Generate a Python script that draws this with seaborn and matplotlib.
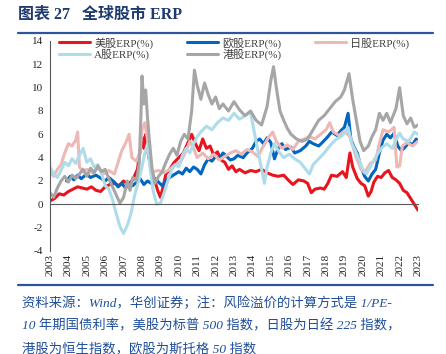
import pandas as pd
import seaborn as sns
import matplotlib.pyplot as plt
from matplotlib.lines import Line2D

# ---- data (decimal year, ERP %) ----
us_t = [2003.0, 2003.25, 2003.5, 2003.75, 2004.0, 2004.25, 2004.5, 2004.75, 2005.0, 2005.25, 2005.5, 2005.75,
        2006.0, 2006.25, 2006.5, 2006.75, 2007.0, 2007.25, 2007.5, 2007.75, 2007.9, 2008.0, 2008.1, 2008.2,
        2008.35, 2008.5, 2008.7, 2008.85, 2009.0, 2009.15, 2009.3, 2009.5, 2009.75, 2010.0, 2010.25, 2010.5,
        2010.7, 2010.9, 2011.1, 2011.3, 2011.5, 2011.7, 2011.9, 2012.1, 2012.3, 2012.5, 2012.7, 2012.9,
        2013.1, 2013.3, 2013.6, 2013.9, 2014.2, 2014.5, 2014.8, 2015.1, 2015.4, 2015.7, 2016.0, 2016.2,
        2016.5, 2016.8, 2017.0, 2017.2, 2017.4, 2017.7, 2017.9, 2018.1, 2018.3, 2018.6, 2018.9, 2019.1,
        2019.3, 2019.45, 2019.7, 2019.9, 2020.1, 2020.3, 2020.45, 2020.6, 2020.8, 2021.0, 2021.2, 2021.4,
        2021.6, 2021.8, 2022.0, 2022.2, 2022.4, 2022.6, 2022.8, 2023.0]
us_v = [0.3, 0.5, 0.9, 0.8, 1.1, 1.3, 1.5, 1.4, 1.3, 1.5, 1.2, 1.1,
        1.5, 1.7, 1.8, 1.6, 2.0, 1.7, 2.1, 3.0, 4.6, 5.8, 4.8, 6.0,
        4.2, 3.0, 2.0, 1.2, 0.6, 1.5, 2.6, 3.0, 3.6, 4.0, 4.4, 5.3,
        6.0, 5.2, 4.6, 5.6, 4.8, 5.0, 4.2, 4.5, 3.8, 3.6, 3.0, 3.3,
        2.8, 3.0, 2.7, 2.9, 2.8, 3.0, 2.7, 2.5, 2.4, 2.5, 2.0, 1.7,
        2.1, 2.0, 1.8, 1.0, 1.3, 1.4, 1.3, 1.8, 2.5, 2.4, 2.8, 2.3,
        4.4, 3.2, 2.2, 1.8, 1.6, 0.7, 1.1, 1.9, 2.4, 2.3, 2.7, 2.9,
        2.3, 2.1, 1.8, 1.2, 1.0, 0.5, 0.0, -0.5]

eu_t = [2003.9, 2004.1, 2004.3, 2004.5, 2004.7, 2005.0, 2005.2, 2005.5, 2005.8, 2006.0, 2006.2, 2006.5,
        2006.7, 2006.9, 2007.1, 2007.3, 2007.5, 2007.7, 2007.9, 2008.1, 2008.3, 2008.5, 2008.7, 2008.9,
        2009.1, 2009.3, 2009.5, 2009.8, 2010.0, 2010.2, 2010.4, 2010.6, 2010.8, 2011.0, 2011.2, 2011.4,
        2011.6, 2011.8, 2012.0, 2012.2, 2012.4, 2012.6, 2012.8, 2013.0, 2013.2, 2013.5, 2013.7, 2014.0,
        2014.2, 2014.4, 2014.6, 2014.8, 2015.0, 2015.2, 2015.4, 2015.6, 2015.8, 2016.1, 2016.3, 2016.6,
        2016.9, 2017.1, 2017.3, 2017.6, 2017.8, 2018.1, 2018.3, 2018.6, 2018.8, 2019.0, 2019.2, 2019.35,
        2019.5, 2019.7, 2019.9, 2020.1, 2020.3, 2020.5, 2020.7, 2020.9, 2021.1, 2021.3, 2021.5, 2021.7,
        2021.9, 2022.1, 2022.3, 2022.5, 2022.7, 2022.9, 2023.0]
eu_v = [2.0, 2.4, 2.1, 2.5, 2.2, 2.6, 2.3, 2.5, 2.2, 2.0, 2.3, 1.9,
        1.5, 1.8, 1.4, 1.7, 1.6, 1.9, 2.2, 1.7, 2.0, 1.8, 2.2, 1.9,
        1.6, 2.0, 2.3, 2.6, 2.8, 2.6, 3.1, 2.8, 3.2, 3.0, 2.6, 3.4,
        3.9, 3.7, 4.1, 3.9, 4.4, 4.1, 3.8, 3.9, 4.2, 4.0, 4.4, 4.8,
        5.4, 5.6, 5.2, 5.7, 5.3, 3.9, 4.8, 5.2, 4.7, 4.9, 4.4, 4.6,
        5.0, 5.4, 5.2, 5.0, 5.3, 5.8, 6.2, 5.9, 6.3, 6.6, 7.8, 5.6,
        5.0, 4.4, 3.2, 2.4, 2.0, 2.6, 3.0, 4.4, 5.5, 6.0, 5.7, 6.1,
        5.0, 4.6, 4.9, 5.3, 5.1, 5.6, 5.4]

jp_t = [2003.0, 2003.2, 2003.4, 2003.6, 2003.8, 2004.0, 2004.2, 2004.4, 2004.5, 2004.6, 2004.8, 2005.0,
        2005.3, 2005.6, 2005.9, 2006.2, 2006.5, 2006.7, 2006.9, 2007.1, 2007.3, 2007.45, 2007.7, 2007.9,
        2008.0, 2008.15, 2008.3, 2008.45, 2008.6, 2008.9, 2009.2, 2009.5, 2009.8, 2010.1, 2010.4, 2010.6,
        2010.8, 2011.0, 2011.3, 2011.6, 2011.9, 2012.2, 2012.5, 2012.8, 2013.1, 2013.4, 2013.7, 2014.0,
        2014.3, 2014.6, 2014.9, 2015.1, 2015.3, 2015.6, 2015.9, 2016.2, 2016.5, 2016.8, 2017.1, 2017.4,
        2017.7, 2018.0, 2018.2, 2018.4, 2018.7, 2019.0, 2019.3, 2019.6, 2019.9, 2020.1, 2020.4, 2020.7,
        2020.9, 2021.1, 2021.4, 2021.7, 2021.85, 2022.0, 2022.15, 2022.4, 2022.7, 2023.0]
jp_v = [2.8, 2.4, 3.0, 3.4, 4.4, 5.2, 5.0, 5.5, 6.2, 3.2, 2.8, 3.0,
        2.7, 3.1, 2.6, 2.9, 2.6, 3.6, 4.6, 5.2, 6.0, 4.0, 3.7, 4.5,
        6.4, 7.0, 5.6, 3.2, 2.8, 2.9, 2.7, 3.0, 3.4, 3.6, 4.6, 5.4,
        4.8, 4.0, 4.4, 3.9, 4.3, 3.8, 4.1, 4.4, 4.6, 4.3, 4.7, 4.5,
        4.1, 5.0, 5.8, 6.2, 5.4, 4.8, 5.1, 4.7, 5.4, 5.6, 5.8, 5.6,
        6.0, 6.4, 7.0, 6.2, 5.9, 6.3, 5.8, 4.2, 3.0, 2.7, 3.5, 3.8,
        5.2, 6.4, 6.2, 6.6, 3.2, 3.3, 5.0, 5.3, 5.0, 5.4]

cn_t = [2003.0, 2003.2, 2003.4, 2003.6, 2003.8, 2004.0, 2004.2, 2004.4, 2004.6, 2004.8, 2005.0, 2005.2,
        2005.4, 2005.6, 2005.8, 2006.0, 2006.2, 2006.4, 2006.6, 2006.8, 2007.0, 2007.2, 2007.4, 2007.6,
        2007.8, 2008.0, 2008.15, 2008.3, 2008.45, 2008.6, 2008.8, 2009.0, 2009.2, 2009.4, 2009.6, 2009.8,
        2010.0, 2010.2, 2010.4, 2010.6, 2010.8, 2011.0, 2011.2, 2011.5, 2011.8, 2012.1, 2012.4, 2012.7,
        2013.0, 2013.3, 2013.6, 2013.9, 2014.1, 2014.3, 2014.5, 2014.65, 2014.8, 2015.0, 2015.2, 2015.4,
        2015.7, 2016.0, 2016.3, 2016.6, 2016.9, 2017.1, 2017.3, 2017.6, 2017.9, 2018.2, 2018.5, 2018.8,
        2019.0, 2019.2, 2019.4, 2019.6, 2019.8, 2020.0, 2020.2, 2020.4, 2020.6, 2020.8, 2021.0, 2021.3,
        2021.6, 2021.8, 2022.0, 2022.2, 2022.5, 2022.8, 2023.0]
cn_v = [3.2, 2.6, 2.3, 2.9, 3.6, 3.3, 3.9, 3.5, 4.2, 4.8, 3.6, 3.9,
        3.2, 3.4, 2.6, 1.6, 1.3, 0.4, -0.8, -1.9, -2.5, -1.8, -0.8, 0.8,
        1.9, 3.2, 4.4, 5.2, 3.0, 1.2, 0.0, 0.1, 1.0, 2.0, 2.9, 3.4,
        3.2, 4.2, 4.8, 4.4, 5.2, 5.8, 6.2, 6.7, 6.4, 7.0, 7.4, 7.2,
        7.8, 7.3, 7.6, 7.9, 6.2, 4.6, 3.0, 1.8, 3.2, 4.4, 5.2, 4.6,
        4.0, 4.3, 3.9, 3.6, 3.0, 2.6, 3.4, 3.9, 4.4, 5.0, 5.5, 5.8,
        6.1, 6.6, 5.2, 4.6, 3.8, 3.0, 2.6, 3.2, 3.8, 4.3, 4.8, 5.2,
        4.8, 5.5, 6.1, 5.6, 5.4, 6.2, 6.0]

hk_t = [2003.0, 2003.2, 2003.4, 2003.6, 2003.8, 2004.0, 2004.2, 2004.4, 2004.6, 2004.8, 2005.0, 2005.2,
        2005.4, 2005.6, 2005.8, 2006.0, 2006.2, 2006.4, 2006.6, 2006.8, 2007.0, 2007.2, 2007.35, 2007.5,
        2007.7, 2007.85, 2007.95, 2008.0, 2008.1, 2008.2, 2008.3, 2008.4, 2008.55, 2008.7, 2008.9, 2009.1,
        2009.3, 2009.5, 2009.7, 2009.9, 2010.1, 2010.3, 2010.5, 2010.7, 2010.85, 2011.0, 2011.2, 2011.4,
        2011.6, 2011.8, 2012.0, 2012.2, 2012.4, 2012.7, 2013.0, 2013.3, 2013.6, 2013.9, 2014.2, 2014.5,
        2014.8, 2015.0, 2015.15, 2015.3, 2015.5, 2015.7, 2015.9, 2016.1, 2016.4, 2016.7, 2017.0, 2017.3,
        2017.6, 2017.9, 2018.2, 2018.5, 2018.8, 2019.0, 2019.25, 2019.45, 2019.65, 2019.85, 2020.05, 2020.3,
        2020.5, 2020.7, 2020.9, 2021.1, 2021.3, 2021.5, 2021.8, 2022.0, 2022.2, 2022.4, 2022.6, 2022.8,
        2023.0]
hk_v = [1.0, 0.6, 1.4, 2.0, 2.4, 1.9, 2.5, 2.2, 2.6, 3.0, 2.4, 3.1,
        2.7, 3.3, 2.8, 3.0, 2.2, 1.5, 0.8, 0.1, 0.6, 2.0, 1.2, 2.3,
        2.0, 3.5, 8.0, 11.0, 8.6, 9.8, 7.4, 5.5, 3.0, 1.8, 2.4, 2.8,
        3.6, 4.3, 4.8, 4.2, 5.4, 6.0, 5.6, 8.0, 11.5, 10.2, 9.0, 10.4,
        9.4, 8.6, 9.2, 8.2, 8.6, 8.0, 8.8, 8.1, 7.6, 8.0, 7.2, 6.8,
        8.4, 10.6, 11.8, 10.0, 8.0, 7.2, 6.5, 6.0, 5.6, 5.4, 5.6, 6.4,
        7.2, 7.6, 8.2, 8.8, 9.2, 9.8, 11.2, 9.0, 7.2, 5.4, 4.6, 5.0,
        5.8, 6.4, 7.8, 7.2, 7.8, 7.0, 8.2, 10.0, 7.6, 6.9, 7.4, 6.6,
        6.8]

names = ['美股ERP(%)', '欧股ERP(%)', '日股ERP(%)', 'A股ERP(%)', '港股ERP(%)']
colors = ['#E8141E', '#0066C0', '#EDB8B6', '#AEDCEA', '#A6A6A6']
years = list(range(2003, 2024))
yticks = list(range(-4, 15, 2))

frames = []
for n, t, v in zip(names, [us_t, eu_t, jp_t, cn_t, hk_t], [us_v, eu_v, jp_v, cn_v, hk_v]):
    frames.append(pd.DataFrame({'year': t, 'erp': v, 'series': n}))
df = pd.concat(frames, ignore_index=True)

sns.set_style('white')
plt.rcParams['font.family'] = ['Liberation Serif', 'Noto Sans CJK SC']
plt.rcParams['axes.unicode_minus'] = False

fig = plt.figure(figsize=(4.46, 3.54), dpi=100)
ax = fig.add_axes([50 / 446, 1 - 251 / 354, 368 / 446, 210 / 354])

sns.lineplot(data=df, x='year', y='erp', hue='series', hue_order=names,
             palette=colors, estimator=None, sort=False, linewidth=2.2, ax=ax)

ax.set_xlim(2003, 2023)
ax.set_ylim(-4, 14)
ax.set_xlabel('')
ax.set_ylabel('')
ax.set_yticks(yticks)
ax.set_xticks(years)
ax.tick_params(axis='x', labelbottom=False, direction='out', length=3, width=0.8, color='#595959')
ax.tick_params(axis='y', direction='out', length=3, width=0.8, color='#595959', labelsize=8, pad=2)
for s in ['top', 'right']:
    ax.spines[s].set_visible(False)
ax.spines['bottom'].set_position(('data', 0))
for s in ['left', 'bottom']:
    ax.spines[s].set_color('#595959')
    ax.spines[s].set_linewidth(0.8)

sec = ax.secondary_xaxis('bottom')
sec.set_xticks(years)
sec.set_xticklabels([str(y) for y in years], rotation=90, fontsize=8)
sec.tick_params(length=0, pad=2)
sec.spines['bottom'].set_visible(False)

handles, labels = ax.get_legend_handles_labels()
order = [0, 3, 1, 4, 2]
ax.legend([handles[i] for i in order], [labels[i] for i in order], ncol=3,
          loc='upper left', bbox_to_anchor=(52 / 446, 1 - 30 / 354), bbox_transform=fig.transFigure,
          frameon=False, fontsize=8, handlelength=2.8, handletextpad=0.4, columnspacing=3.0,
          labelspacing=0.05, borderpad=0.1, labelcolor='#404040')

navy = '#1F3A6E'
fig.text(18 / 446, 1 - 15 / 354, '图表 27   全球股市 ERP', fontsize=11.5, fontweight='bold',
         color=navy, va='center', ha='left')
fig.add_artist(Line2D([18 / 446, 433 / 446], [1 - 33 / 354] * 2, color='#2E5597', lw=1.6))
fig.add_artist(Line2D([18 / 446, 433 / 446], [1 - 285 / 354] * 2, color='#2E5597', lw=1.6))

note = ['资料来源：Wind，华创证券；注：风险溢价的计算方式是 1/PE-',
        '10 年期国债利率，美股为标普 500 指数，日股为日经 225 指数，',
        '港股为恒生指数，欧股为斯托格 50 指数']
for i, line in enumerate(note):
    fig.text(22 / 446, 1 - (303 + 23 * i) / 354, line, fontsize=9.6, style='italic',
             color='#1F4E99', va='center', ha='left')

fig.savefig('out.png', dpi=100)
